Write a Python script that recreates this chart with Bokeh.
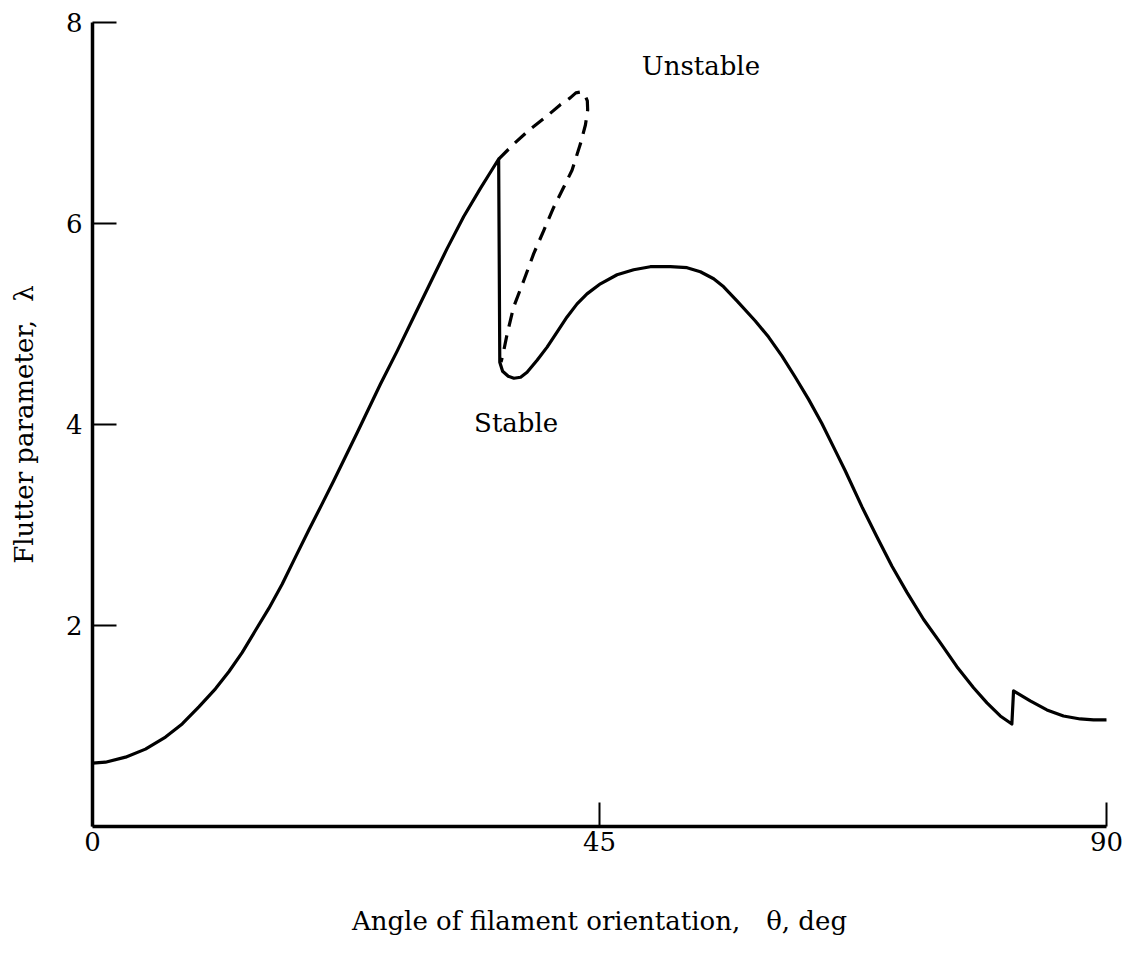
from bokeh.plotting import figure
from bokeh.models import Range1d, FixedTicker
from bokeh.core.properties import value
from bokeh.embed import file_html
from bokeh.resources import INLINE

# Stability boundary (solid)
theta = [0.0, 1.15, 2.93, 4.70, 6.48, 7.96, 9.44, 10.91, 12.10, 13.28, 14.46, 15.65,
         16.83, 18.01, 19.20, 20.38, 21.41, 23.5, 25.55, 27.04, 28.51, 29.99, 31.47,
         32.95, 34.43, 35.32, 36.05,
         36.15, 36.4, 36.9, 37.4, 38.0, 38.57, 39.46, 40.35, 41.23, 42.12, 43.01, 43.89,
         45.08, 46.56, 48.03, 49.51, 51.29, 52.77, 53.95, 55.13, 56.02, 57.2, 58.83,
         60.01, 61.2, 62.38, 63.56, 64.74, 65.93, 66.81, 68.3, 69.63, 70.96, 72.29,
         73.77, 75.24, 76.72, 78.2, 79.39, 80.57, 81.6,
         81.75, 83.23, 84.71, 86.18, 87.67, 88.85, 90.0]
lam = [0.63, 0.64, 0.69, 0.77, 0.89, 1.02, 1.19, 1.37, 1.54, 1.73, 1.95, 2.17,
       2.41, 2.68, 2.95, 3.21, 3.44, 3.92, 4.40, 4.73, 5.07, 5.41, 5.75,
       6.07, 6.35, 6.51, 6.64,
       4.62, 4.53, 4.48, 4.46, 4.47, 4.52, 4.64, 4.77, 4.92, 5.07, 5.20, 5.30,
       5.40, 5.49, 5.54, 5.57, 5.57, 5.56, 5.52, 5.45, 5.37, 5.23, 5.03,
       4.87, 4.68, 4.47, 4.25, 4.01, 3.74, 3.54, 3.18, 2.88, 2.59, 2.33,
       2.06, 1.83, 1.59, 1.38, 1.23, 1.10, 1.02,
       1.35, 1.25, 1.16, 1.10, 1.07, 1.06, 1.06]

# Dashed branch
d_theta = [36.05, 37.38, 38.86, 40.35, 41.5, 42.4, 42.9, 43.35, 43.7, 43.92, 43.95,
           43.75, 43.3, 42.56, 41.82, 40.93, 40.05, 39.16, 38.27, 37.38, 36.8, 36.44, 36.26]
d_lam = [6.64, 6.79, 6.94, 7.07, 7.18, 7.25, 7.30, 7.31, 7.28, 7.22, 7.13,
         6.98, 6.79, 6.53, 6.36, 6.16, 5.93, 5.70, 5.43, 5.17, 4.90, 4.70, 4.62]

x_ticks = [0, 45, 90]
y_ticks = [2, 4, 6, 8]
labels = ["Unstable", "Stable"]
label_x = [54.0, 37.6]
label_y = [7.57, 4.01]

FONT = "DejaVu Serif"
FS = "26px"

p = figure(width=1129, height=953, output_backend="svg", toolbar_location=None,
           x_range=Range1d(0, 90), y_range=Range1d(0, 8),
           min_border_left=92, min_border_right=23, min_border_top=22, min_border_bottom=127)
p.outline_line_color = None
p.grid.visible = False
p.background_fill_color = "white"
p.border_fill_color = "white"

p.line(theta, lam, line_color="black", line_width=3.2, line_join="round", line_cap="round")
p.line(d_theta, d_lam, line_color="black", line_width=3.2, line_dash="14 9", line_join="round")

p.text(label_x, label_y, text=labels, text_font=value(FONT), text_font_size=FS,
       text_align="center", text_baseline="middle", text_color="black")

for ax in (p.xaxis[0], p.yaxis[0]):
    ax.axis_line_width = 3.5
    ax.axis_line_color = "black"
    ax.major_tick_in = 24
    ax.major_tick_out = 0
    ax.major_tick_line_width = 2
    ax.major_tick_line_color = "black"
    ax.minor_tick_line_color = None
    ax.major_label_text_font = FONT
    ax.major_label_text_font_size = FS
    ax.major_label_text_color = "black"
    ax.axis_label_text_font = FONT
    ax.axis_label_text_font_size = FS
    ax.axis_label_text_font_style = "normal"
    ax.axis_label_text_color = "black"

p.xaxis.ticker = FixedTicker(ticks=x_ticks)
p.yaxis.ticker = FixedTicker(ticks=y_ticks)
p.xaxis.axis_label = "Angle of filament orientation,\u2002\u2002θ, deg"
p.yaxis.axis_label = "Flutter parameter,\u2002\u2009λ"
p.xaxis.major_label_standoff = 5
p.xaxis.axis_label_standoff = 52
p.yaxis.major_label_standoff = 10
p.yaxis.axis_label_standoff = 24

open("out.html", "w").write(file_html(p, INLINE))
